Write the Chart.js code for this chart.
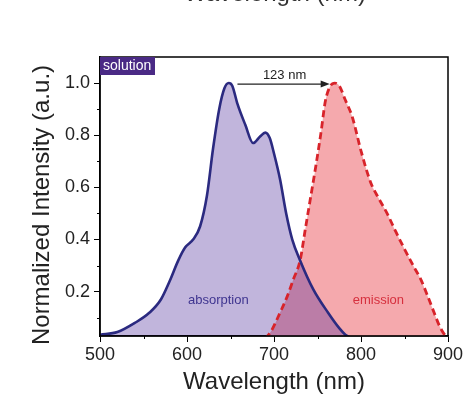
<!DOCTYPE html>
<html>
<head>
<meta charset="utf-8">
<script src="https://cdn.jsdelivr.net/npm/chart.js@4.4.1/dist/chart.umd.min.js"></script>
<style>
html,body{margin:0;padding:0;background:#fff;}
canvas{display:block;}
</style>
</head>
<body>
<canvas id="c" width="466" height="398"></canvas>
<script>
// ---- data ----
const absWavelength = [500,520,540,557,570,580,590,598,607,615,623,630,637,643,648,652,658,667,676,684,690,695,700,707,714,721,730,745,762,775,782,790];
const absIntensity  = [0.035,0.045,0.08,0.12,0.17,0.24,0.32,0.37,0.40,0.45,0.57,0.75,0.90,0.98,1.0,0.99,0.92,0.84,0.77,0.795,0.81,0.79,0.73,0.63,0.50,0.40,0.32,0.21,0.12,0.06,0.035,0.02];
const emWavelength  = [690,697,707,715,722,730,736,742,748,754,759,765,770,775,782,790,800,811,820,830,840,849,860,869,877,884,890,895,900];
const emIntensity   = [0.02,0.05,0.12,0.18,0.245,0.32,0.44,0.56,0.68,0.81,0.93,0.99,1.0,0.99,0.935,0.87,0.74,0.62,0.56,0.50,0.43,0.37,0.30,0.245,0.18,0.12,0.07,0.04,0.02];
const xTickValues = [500,600,700,800,900];
const yTickValues = [0.2,0.4,0.6,0.8,1.0];
const xMinorValues = [550,650,750,850];
const yMinorValues = [0.1,0.3,0.5,0.7,0.9];
const seriesNames = ['absorption','emission'];
const shiftLabel = '123 nm';
const sampleLabel = 'solution';
const yTitle = 'Normalized Intensity (a.u.)';
const absPeak = 648, emPeak = 770;

const FONT = "'Liberation Sans', Arial, sans-serif";
const toXY = (xs, ys) => xs.map((x, i) => ({x: x, y: ys[i]}));

const decorPlugin = {
  id: 'decor',
  afterDraw(chart) {
    const ctx = chart.ctx;
    const a = chart.chartArea;
    const xs = chart.scales.x, ys = chart.scales.y;
    ctx.save();
    // frame
    ctx.strokeStyle = '#000';
    ctx.lineWidth = 1.5;
    ctx.strokeRect(a.left, a.top, a.right - a.left, a.bottom - a.top);
    // minor ticks
    ctx.lineWidth = 1;
    ctx.beginPath();
    xMinorValues.forEach(v => { const p = Math.round(xs.getPixelForValue(v)) + 0.5; ctx.moveTo(p, a.bottom); ctx.lineTo(p, a.bottom + 3); });
    yMinorValues.forEach(v => { const p = Math.round(ys.getPixelForValue(v)) + 0.5; ctx.moveTo(a.left, p); ctx.lineTo(a.left - 3, p); });
    ctx.stroke();
    // sample label box
    ctx.fillStyle = '#4a2a85';
    ctx.fillRect(a.left, a.top, 55, 18);
    ctx.fillStyle = '#fff';
    ctx.font = '14px ' + FONT;
    ctx.textBaseline = 'middle';
    ctx.textAlign = 'left';
    ctx.fillText(sampleLabel, a.left + 3, a.top + 9.5);
    // arrow
    const y1 = ys.getPixelForValue(1.0) + 1;
    const xa = xs.getPixelForValue(absPeak + 10);
    const xb = xs.getPixelForValue(emPeak - 6);
    ctx.strokeStyle = '#222';
    ctx.lineWidth = 1.3;
    ctx.beginPath(); ctx.moveTo(xa, y1); ctx.lineTo(xb - 6, y1); ctx.stroke();
    ctx.fillStyle = '#222';
    ctx.beginPath(); ctx.moveTo(xb, y1); ctx.lineTo(xb - 9, y1 - 3.5); ctx.lineTo(xb - 9, y1 + 3.5); ctx.closePath(); ctx.fill();
    ctx.font = '13px ' + FONT;
    ctx.textAlign = 'center';
    ctx.fillText(shiftLabel, (xa + xb) / 2 + 1, y1 - 9);
    // series labels
    ctx.fillStyle = '#3f3590';
    ctx.fillText(seriesNames[0], xs.getPixelForValue(636), ys.getPixelForValue(0.165));
    ctx.fillStyle = '#d6303e';
    ctx.fillText(seriesNames[1], xs.getPixelForValue(820), ys.getPixelForValue(0.165));
    // y axis title
    ctx.fillStyle = '#222';
    ctx.font = '24px ' + FONT;
    ctx.translate(42, 205);
    ctx.rotate(-Math.PI / 2);
    ctx.textBaseline = 'middle';
    ctx.fillText(yTitle, 0, 0);
    ctx.setTransform(1, 0, 0, 1, 0, 0);
    // cut-off title of the panel above
    ctx.fillStyle = '#333';
    ctx.textBaseline = 'alphabetic';
    ctx.fillText('Wavelength (nm)', 275, 1);
    ctx.restore();
  }
};

new Chart(document.getElementById('c'), {
  type: 'line',
  data: {
    datasets: [
      {
        label: seriesNames[0],
        data: toXY(absWavelength, absIntensity),
        borderColor: '#2b2a80',
        borderWidth: 2.6,
        backgroundColor: 'rgba(78,43,155,0.35)',
        fill: 'origin',
        pointRadius: 0,
        cubicInterpolationMode: 'monotone'
      },
      {
        label: seriesNames[1],
        data: toXY(emWavelength, emIntensity),
        borderColor: '#d8232a',
        borderWidth: 2.8,
        borderDash: [7, 4],
        backgroundColor: 'rgba(242,140,146,0.75)',
        fill: 'origin',
        pointRadius: 0,
        cubicInterpolationMode: 'monotone'
      }
    ]
  },
  options: {
    responsive: false,
    animation: false,
    layout: { padding: { left: 0, top: 57, right: 18, bottom: 0 } },
    plugins: {
      legend: { display: false },
      tooltip: { enabled: false },
      filler: { drawTime: 'beforeDatasetsDraw' }
    },
    scales: {
      x: {
        type: 'linear',
        min: 500, max: 900,
        afterFit: s => { s.height = 62; },
        afterBuildTicks: s => { s.ticks = xTickValues.map(v => ({value: v})); },
        grid: { drawOnChartArea: false, drawTicks: true, tickLength: 6, color: '#000', lineWidth: 1 },
        border: { display: true, color: '#000', width: 1.5 },
        ticks: { font: { family: FONT, size: 18 }, color: '#222', padding: 2, maxRotation: 0, callback: v => String(v) },
        title: { display: true, text: 'Wavelength (nm)', font: { family: FONT, size: 24 }, color: '#222', padding: { top: 0, bottom: 1 } }
      },
      y: {
        type: 'linear',
        min: 0.03, max: 1.1,
        afterFit: s => { s.width = 100; },
        afterBuildTicks: s => { s.ticks = yTickValues.map(v => ({value: v})); },
        grid: { drawOnChartArea: false, drawTicks: true, tickLength: 6, color: '#000', lineWidth: 1 },
        border: { display: true, color: '#000', width: 1.5 },
        ticks: { font: { family: FONT, size: 18 }, color: '#222', padding: 4, callback: v => Number(v).toFixed(1) },
        title: { display: false }
      }
    }
  },
  plugins: [decorPlugin]
});
</script>
</body>
</html>
